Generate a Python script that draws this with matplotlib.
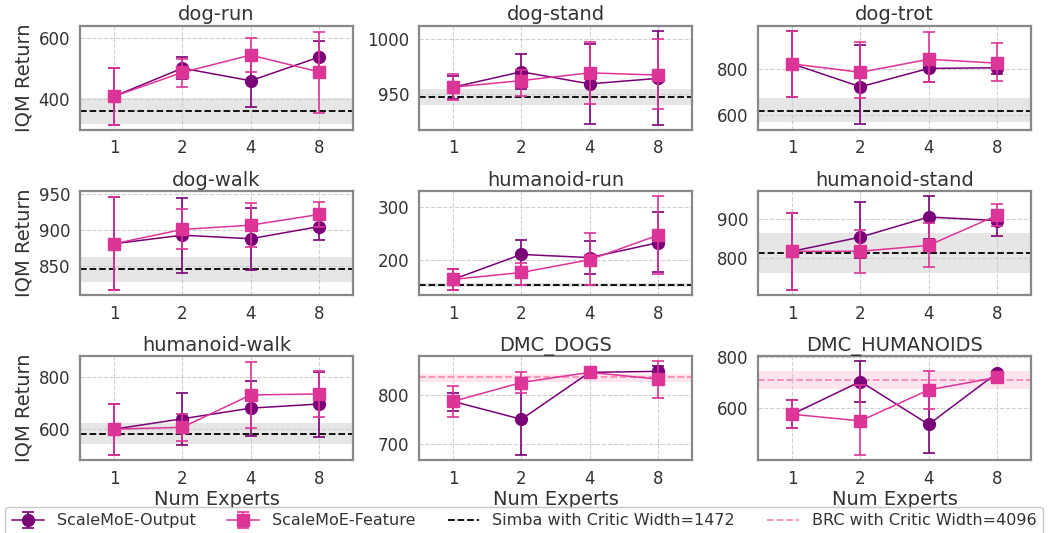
import matplotlib
matplotlib.use("Agg")
import matplotlib.pyplot as plt
from matplotlib.lines import Line2D
import numpy as np

TASKS = ["dog-run", "dog-stand", "dog-trot", "dog-walk", "humanoid-run",
         "humanoid-stand", "humanoid-walk", "DMC_DOGS", "DMC_HUMANOIDS"]
EXPERTS = ["1", "2", "4", "8"]

OUT_MEAN = [[408, 500, 459, 536], [956, 970, 959, 964], [823, 723, 803, 806],
            [881, 893, 888, 905], [164, 211, 205, 233], [817, 853, 904, 895],
            [599, 639, 680, 696], [787, 750, 847, 849], [576, 705, 536, 738]]
OUT_LO = [[315, 465, 372, 470], [945, 954, 923, 922], [680, 559, 742, 778],
          [816, 840, 844, 886], [144, 185, 174, 177], [719, 800, 849, 857],
          [499, 538, 573, 567], [768, 677, 840, 840], [521, 626, 425, 725]]
OUT_HI = [[502, 538, 530, 589], [966, 986, 995, 1007], [966, 906, 860, 835],
          [946, 945, 931, 920], [183, 239, 236, 291], [914, 941, 957, 920],
          [697, 739, 786, 820], [805, 822, 855, 860], [633, 784, 646, 748]]

FEAT_MEAN = [[408, 486, 543, 488], [956, 962, 969, 967], [823, 786, 843, 826],
             [881, 901, 907, 922], [164, 177, 201, 247], [817, 817, 832, 908],
             [599, 606, 731, 735], [787, 826, 847, 833], [576, 550, 672, 721]]
FEAT_LO = [[315, 440, 486, 355], [944, 948, 941, 936], [680, 673, 742, 748],
           [816, 873, 876, 905], [144, 154, 153, 174], [719, 762, 776, 880],
           [499, 553, 605, 644], [755, 804, 840, 794], [521, 416, 596, 710]]
FEAT_HI = [[502, 530, 600, 620], [968, 972, 997, 1000], [966, 917, 960, 913],
           [946, 929, 938, 939], [183, 195, 252, 321], [914, 872, 889, 936],
           [697, 659, 860, 825], [818, 847, 852, 870], [633, 690, 747, 730]]

BASE_MEAN = [359, 947, 619, 845, 154, 813, 581, 836.5, 712]
BASE_LO = [316, 940, 568, 827, 150, 763, 541, 827, 675]
BASE_HI = [404, 954, 672, 863, 158, 863, 622, 844, 747]
BASE_KIND = ["simba"] * 7 + ["brc"] * 2

YLIMS = [(299, 638), (917.5, 1011.5), (536, 988), (809.5, 954.6), (135, 330),
         (706.6, 969.5), (480, 880), (666, 880), (396, 804)]
YTICKS = [[400, 600], [950, 1000], [600, 800], [850, 900, 950], [200, 300],
          [800, 900], [600, 800], [700, 800], [600, 800]]

LABELS = ["ScaleMoE-Output", "ScaleMoE-Feature", "Simba with Critic Width=1472",
          "BRC with Critic Width=4096"]

C_OUT = "#7a0177"
C_FEAT = "#dd3497"
C_BRC = "#f98cb6"
TXT = "#333333"

plt.rcParams['font.family'] = ['DejaVu Sans']

fig, axes = plt.subplots(3, 3, figsize=(10.48, 5.33), dpi=100)
fig.subplots_adjust(left=0.0763, right=0.9838, top=0.9512, bottom=0.137,
                    wspace=0.242, hspace=0.594)

x = np.arange(len(EXPERTS))
eb_out = eb_feat = None
for i, ax in enumerate(axes.flat):
    ax.set_facecolor("white")
    if BASE_KIND[i] == "simba":
        ax.axhspan(BASE_LO[i], BASE_HI[i], color="#c8c8c8", alpha=0.45, lw=0, zorder=1)
        ax.axhline(BASE_MEAN[i], color="black", ls="--", lw=1.3, zorder=2)
    else:
        ax.axhspan(BASE_LO[i], BASE_HI[i], color="#fbb4d0", alpha=0.35, lw=0, zorder=1)
        ax.axhline(BASE_MEAN[i], color=C_BRC, ls="--", lw=1.3, zorder=2)
    om = np.array(OUT_MEAN[i], float)
    fm = np.array(FEAT_MEAN[i], float)
    oerr = [om - np.array(OUT_LO[i]), np.array(OUT_HI[i]) - om]
    ferr = [fm - np.array(FEAT_LO[i]), np.array(FEAT_HI[i]) - fm]
    eb_out = ax.errorbar(x, om, yerr=oerr, color=C_OUT, marker="o", ms=8.5, lw=1.1,
                         elinewidth=1.2, capsize=4, capthick=1.2, zorder=3)
    eb_feat = ax.errorbar(x, fm, yerr=ferr, color=C_FEAT, marker="s", ms=8, lw=1.1,
                          elinewidth=1.2, capsize=4, capthick=1.2, zorder=4)
    ax.set_xlim(-0.5, 3.5)
    ax.set_ylim(*YLIMS[i])
    ax.set_xticks(x)
    ax.set_xticklabels(EXPERTS)
    ax.set_yticks(YTICKS[i])
    ax.grid(True, ls="--", color="#d0d0d0", lw=0.8, zorder=0)
    ax.set_axisbelow(True)
    ax.tick_params(length=0, labelsize=12, labelcolor=TXT, pad=7)
    for s in ax.spines.values():
        s.set_color("#888888")
        s.set_linewidth(1.6)
    ax.set_title(TASKS[i], fontsize=14, color=TXT, pad=4)
    if i % 3 == 0:
        ax.set_ylabel("IQM Return", fontsize=14, color=TXT)
    if i >= 6:
        ax.set_xlabel("Num Experts", fontsize=14, color=TXT, labelpad=2)

h_simba = Line2D([], [], color="black", ls="--", lw=1.3)
h_brc = Line2D([], [], color=C_BRC, ls="--", lw=1.3)
leg = fig.legend([eb_out, eb_feat, h_simba, h_brc], LABELS,
                 loc="upper center", bbox_to_anchor=(0.5, 0.049), ncol=4,
                 fontsize=11.5, frameon=True, fancybox=True, borderaxespad=0)
leg.get_frame().set_edgecolor("#bbbbbb")
for t in leg.get_texts():
    t.set_color(TXT)

fig.savefig("out.png", dpi=100)
